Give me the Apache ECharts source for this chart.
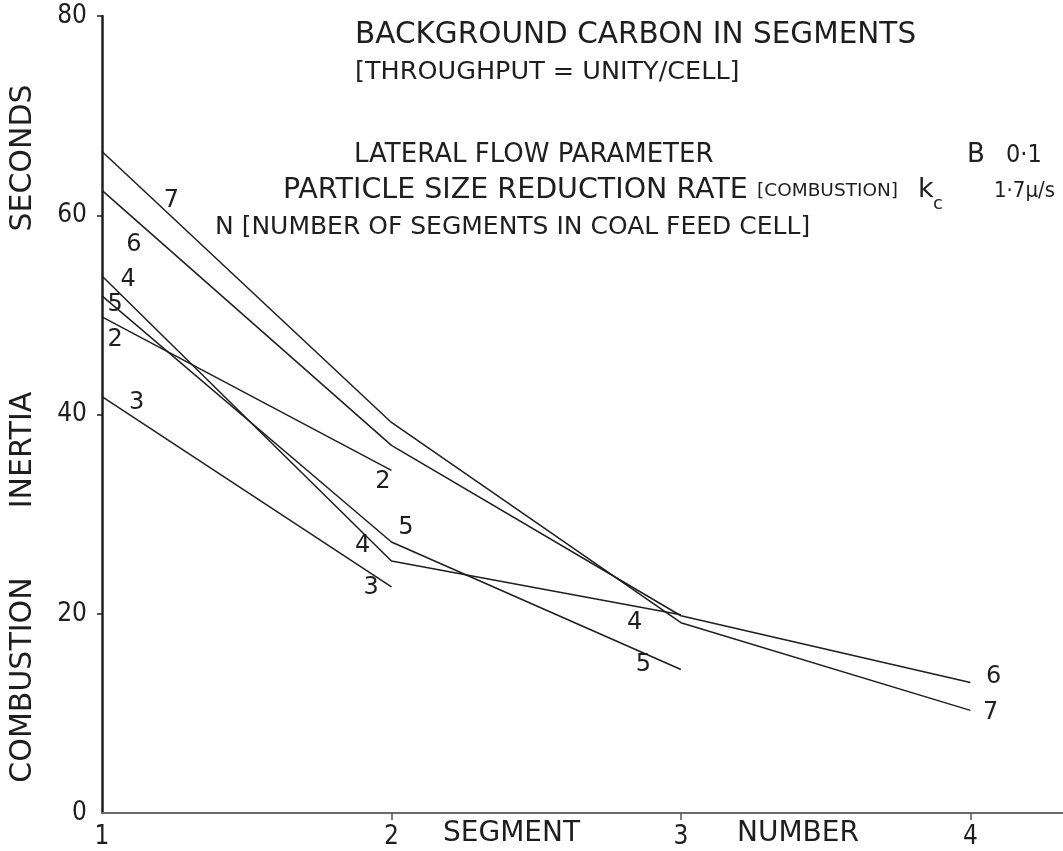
<!DOCTYPE html>
<html>
<head>
<meta charset="utf-8">
<title>Background carbon in segments</title>
<script src="https://cdn.jsdelivr.net/npm/echarts@6/dist/echarts.min.js"></script>
<style>
  html, body { margin: 0; padding: 0; background: #fff; }
  #chart { width: 1063px; height: 851px; }
</style>
</head>
<body>
<div id="chart"></div>
<script>
// segment number on x, combustion inertia (seconds) on y
const segments = [1, 2, 3, 4];
const xTickLabels = [1, 2, 3, 4];
const yTickLabels = [0, 20, 40, 60, 80];

// one curve per N (number of segments in coal feed cell)
const curve2 = [49.8, 34.4];
const curve3 = [41.8, 22.7];
const curve4 = [53.9, 25.3, 19.9];
const curve5 = [51.9, 27.2, 14.4];
const curve6 = [62.5, 36.9, 19.8, 13.1];
const curve7 = [66.4, 39.2, 19.1, 10.3];

const curves = [
  ['2', curve2], ['3', curve3], ['4', curve4],
  ['5', curve5], ['6', curve6], ['7', curve7]
];

// hand written curve numbers, placed in data units
const curveTags = [
  ['7', 1.24, 61.5], ['6', 1.11, 57.0], ['4', 1.09, 53.5], ['5', 1.045, 51.0],
  ['2', 1.045, 47.5], ['3', 1.12, 41.2],
  ['2', 1.97, 33.2], ['5', 2.05, 28.6], ['4', 1.90, 26.8], ['3', 1.93, 22.6],
  ['4', 2.84, 19.1], ['5', 2.87, 14.9], ['6', 4.08, 13.7], ['7', 4.07, 10.1]
];

const ink = '#1e1e1e';
const hand = "'DejaVu Sans', sans-serif";
const narrow = "'Liberation Sans Narrow', 'DejaVu Sans Condensed', sans-serif";

function txt(text, x, y, size, family) {
  return {
    type: 'text', x: x, y: y, silent: true,
    style: {
      text: text, fill: ink,
      font: size + 'px ' + (family || hand),
      align: 'left', verticalAlign: 'middle'
    }
  };
}

function vtxt(text, x, y) {
  const t = txt(text, x, y, 30);
  t.rotation = Math.PI / 2;
  t.style.align = 'center';
  return t;
}

const chart = echarts.init(document.getElementById('chart'));

const series = curves.map(function (c) {
  return {
    name: 'N = ' + c[0],
    type: 'line',
    data: c[1].map(function (v, i) { return [segments[i], v]; }),
    symbol: 'none',
    silent: true,
    lineStyle: { color: ink, width: 1.5 }
  };
});

series.push({
  name: 'tags',
  type: 'scatter',
  silent: true,
  symbolSize: 1,
  itemStyle: { color: 'transparent', opacity: 1 },
  data: curveTags.map(function (t) { return { name: t[0], value: [t[1], t[2]] }; }),
  label: {
    show: true,
    position: 'inside',
    formatter: '{b}',
    color: ink,
    fontFamily: hand,
    fontSize: 24
  }
});

const option = {
  backgroundColor: '#fff',
  animation: false,
  grid: { left: 102, right: 0, top: 16, bottom: 38 },
  xAxis: {
    type: 'value',
    min: 1,
    max: 4.32,
    interval: 1,
    axisLine: { lineStyle: { color: '#6a6a6a', width: 2 } },
    axisTick: {
      show: true, length: 7, customValues: [2, 3, 4],
      lineStyle: { color: '#555', width: 1.5 }
    },
    axisLabel: {
      customValues: xTickLabels,
      margin: 11,
      color: ink,
      fontFamily: narrow,
      fontSize: 26
    },
    splitLine: { show: false }
  },
  yAxis: {
    type: 'value',
    min: 0,
    max: 80,
    interval: 20,
    axisLine: { show: true, lineStyle: { color: ink, width: 2.5 } },
    axisTick: {
      show: true, length: 5, customValues: [20, 40, 60, 80],
      lineStyle: { color: ink, width: 1.5 }
    },
    axisLabel: {
      customValues: yTickLabels,
      margin: 15,
      color: ink,
      fontFamily: narrow,
      fontSize: 26
    },
    splitLine: { show: false }
  },
  graphic: [
    txt('BACKGROUND CARBON IN SEGMENTS', 355, 35, 29.5),
    txt('[THROUGHPUT = UNITY/CELL]', 355, 72, 25.5),
    txt('LATERAL FLOW PARAMETER', 354, 155, 26),
    txt('B', 967, 155, 26),
    txt('0·1', 1006, 155, 25, narrow),
    txt('PARTICLE SIZE REDUCTION RATE', 283, 191, 28.5),
    txt('[COMBUSTION]', 757, 191, 18.5),
    txt('k', 918, 190, 27),
    txt('c', 933, 204, 18),
    txt('1·7μ/s', 994, 191, 22, narrow),
    txt('N [NUMBER OF SEGMENTS IN COAL FEED CELL]', 215, 227, 25),
    vtxt('SECONDS', 23, 158),
    vtxt('INERTIA', 23, 450),
    vtxt('COMBUSTION', 23, 680),
    txt('SEGMENT', 443, 834, 28),
    txt('NUMBER', 737, 834, 28)
  ],
  series: series
};

chart.setOption(option);
</script>
</body>
</html>
